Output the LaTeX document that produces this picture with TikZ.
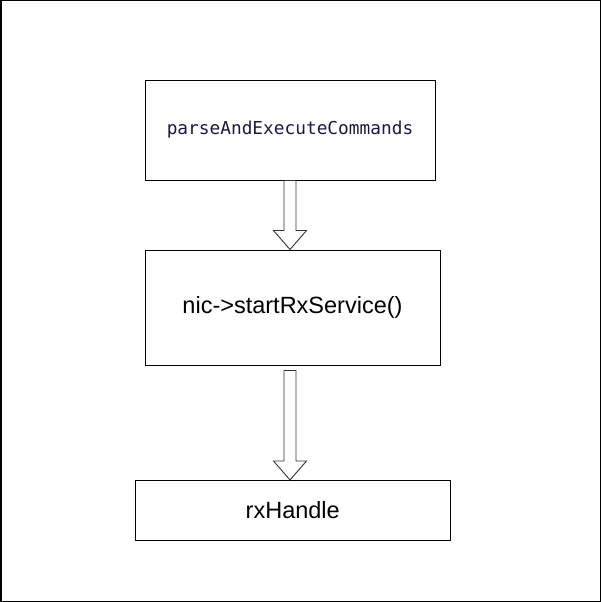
\documentclass[tikz,border=0pt]{standalone}
\usepackage{fontspec}
\setmainfont{Liberation Sans}
\setmonofont{DejaVu Sans Mono}
\usetikzlibrary{calc}
\definecolor{ink}{HTML}{1A1A40}
% hollow block arrow from a start point down to a tip
\newcommand{\blockarrow}[2]{%
  \draw[blockline] ($(#1)+(-6,0)$) -- ($(#2)+(-6,-19)$) -- ($(#2)+(-16.5,-19)$) -- (#2)
    -- ($(#2)+(16.5,-19)$) -- ($(#2)+(6,-19)$) -- ($(#1)+(6,0)$) -- cycle;}

\begin{document}
\begin{tikzpicture}[x=1pt,y=-1pt,
  box/.style={draw,line width=1pt,inner sep=0pt},
  blockline/.style={draw=black!80,line width=0.9pt,fill=white,line join=miter}]
  \useasboundingbox (0,0) rectangle (601,602);
  \draw[line width=1.5pt] (0.75,0.75) rectangle (600.25,601.25);
  \node[box,minimum width=290pt,minimum height=100pt,text=ink,
        font=\fontsize{17.8}{20}\selectfont\ttfamily] (parse) at (290,130) {parseAndExecuteCommands};
  \node[box,minimum width=295pt,minimum height=115pt,
        font=\fontsize{23.5}{26}\selectfont] (rxsvc) at (292.5,307.5) {nic->startRxService()};
  \node[box,minimum width=315pt,minimum height=60pt,
        font=\fontsize{23.5}{26}\selectfont] (rx) at (292.75,510.5) {rxHandle};
  \coordinate (gap) at ($(rxsvc.south)+(-2.5,5)$);
  \blockarrow{parse.south}{parse.south |- rxsvc.north}
  \blockarrow{gap}{gap |- rx.north}
\end{tikzpicture}
\end{document}
